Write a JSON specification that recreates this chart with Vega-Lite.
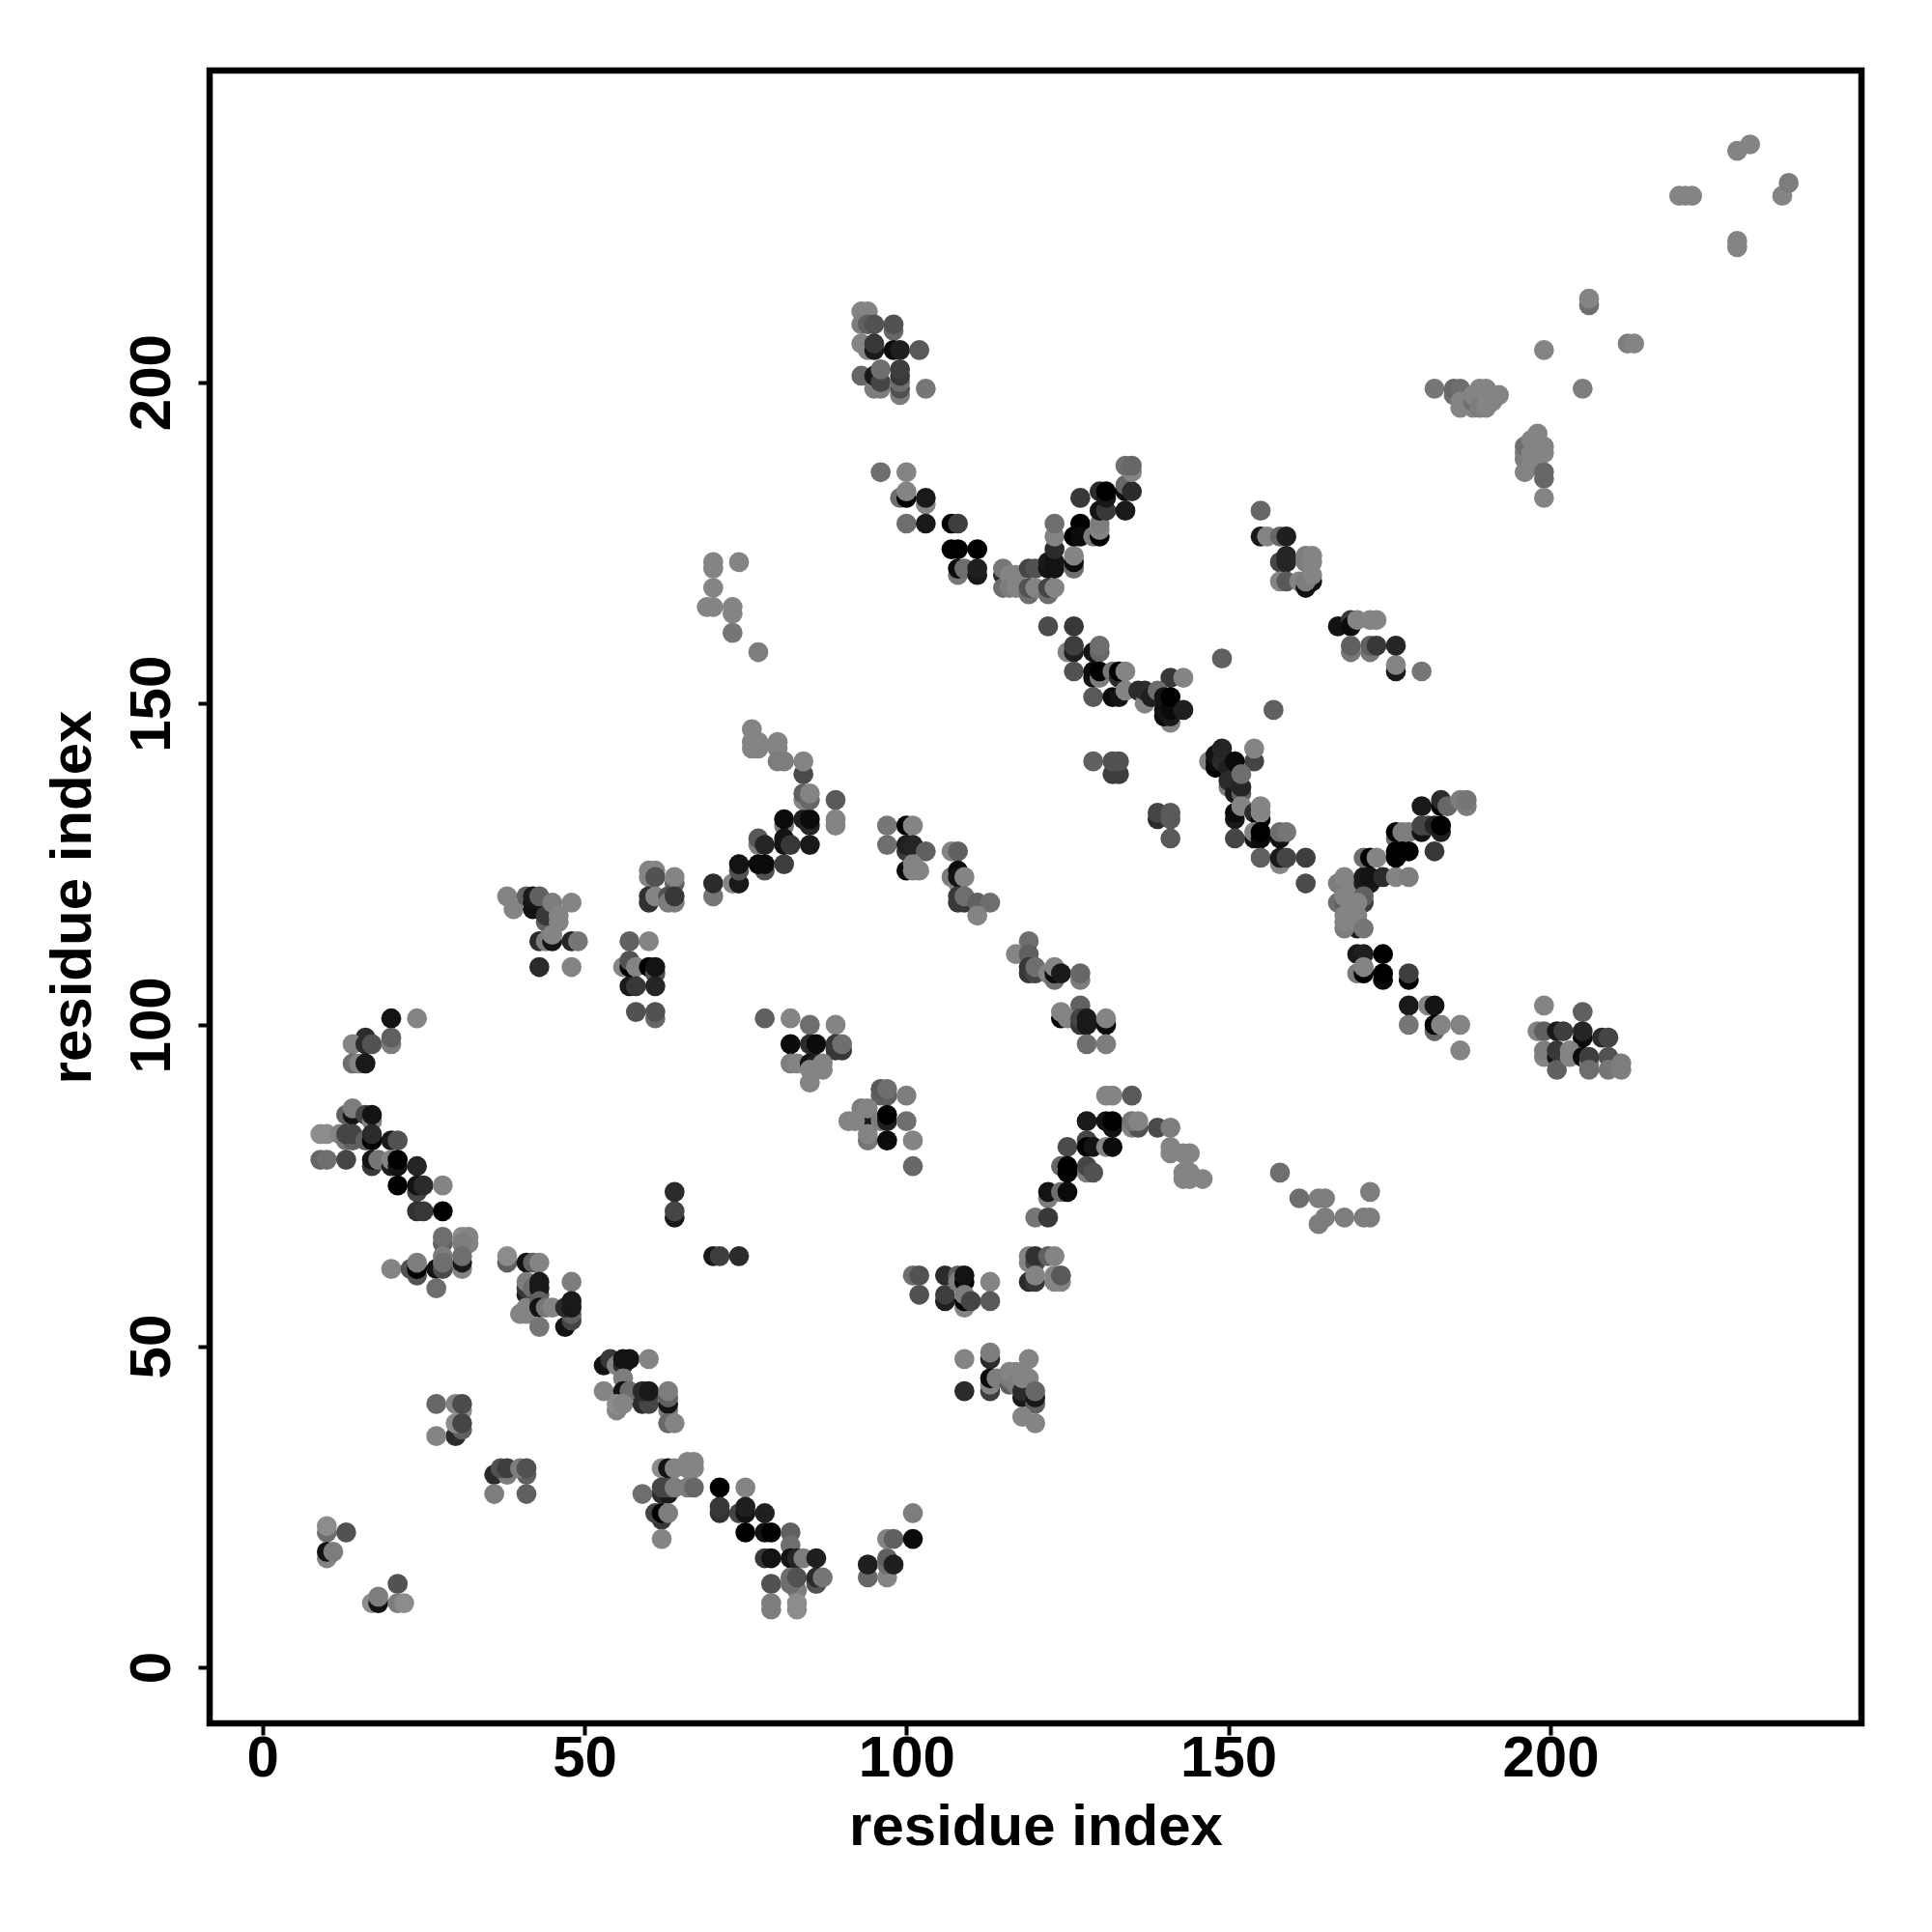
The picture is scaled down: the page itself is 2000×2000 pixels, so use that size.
{"$schema":"https://vega.github.io/schema/vega-lite/v6.json","width":1710,"height":1711,"autosize":"none","padding":{"left":217,"top":73,"right":72,"bottom":216},"background":"white","view":{"stroke":"black","strokeWidth":6.5,"fill":"white"},
"config":{"axis":{"grid":false,"domain":false,"tickColor":"black","tickWidth":4,"tickSize":12,"labelFont":"Liberation Sans","labelFontWeight":"bold","labelFontSize":60,"labelColor":"black","titleFont":"Liberation Sans","titleFontWeight":"bold","titleFontSize":60,"titleColor":"black","labelFlush":false,"labelOverlap":false}},
"data":{"values":[
{"i":10,"j":21,"s":0.2},{"i":10,"j":22,"s":0},{"i":13,"j":21,"s":0.4},{"i":10,"j":17,"s":0.05},{"i":10,"j":18,"s":0.9},{"i":11,"j":18,"s":0.1},
{"i":21,"j":13,"s":0.4},{"i":17,"j":10,"s":0},{"i":18,"j":10,"s":0.9},{"i":18,"j":11,"s":0.1},{"i":21,"j":10,"s":0.1},{"i":22,"j":10,"s":0},
{"i":27,"j":41,"s":0.25},{"i":30,"j":41,"s":0.05},{"i":31,"j":40,"s":0},{"i":31,"j":41,"s":0.45},{"i":30,"j":36,"s":0.7},{"i":31,"j":37,"s":0.3},{"i":30,"j":38,"s":0},{"i":31,"j":38,"s":0.5},{"i":27,"j":36,"s":0.05},
{"i":36,"j":30,"s":0.7},{"i":38,"j":30,"s":0.1},{"i":37,"j":31,"s":0.4},{"i":38,"j":31,"s":0.55},{"i":41,"j":30,"s":0.3},{"i":40,"j":31,"s":0.1},{"i":41,"j":31,"s":0.4},{"i":36,"j":27,"s":0.1},{"i":41,"j":27,"s":0.3},
{"i":62,"j":31,"s":0},{"i":63,"j":31,"s":0.9},{"i":64,"j":31,"s":0.05},{"i":66,"j":32,"s":0.05},{"i":67,"j":32,"s":0.05},{"i":66,"j":31,"s":0.05},{"i":67,"j":31,"s":0.05},{"i":62,"j":27,"s":0.7},{"i":63,"j":27,"s":0.85},{"i":62,"j":28,"s":0.5},{"i":63,"j":28,"s":0.5},{"i":64,"j":28,"s":0.1},{"i":66,"j":28,"s":0.1},{"i":67,"j":28,"s":0.25},{"i":59,"j":27,"s":0.2},{"i":62,"j":23,"s":0.6},{"i":61,"j":24,"s":0.5},{"i":62,"j":24,"s":1},{"i":63,"j":24,"s":0.1},{"i":62,"j":20,"s":0.05},
{"i":71,"j":28,"s":1},{"i":75,"j":28,"s":0.05},{"i":71,"j":24,"s":0.65},{"i":71,"j":25,"s":0.6},{"i":74,"j":24,"s":0.5},{"i":75,"j":24,"s":0.9},{"i":75,"j":25,"s":0.8},{"i":78,"j":24,"s":0.8},{"i":75,"j":21,"s":1},{"i":78,"j":21,"s":0.9},{"i":79,"j":21,"s":1},
{"i":78,"j":17,"s":0.6},{"i":79,"j":17,"s":0.9},{"i":82,"j":21,"s":0.3},{"i":82,"j":19,"s":0.2},{"i":82,"j":17,"s":0.9},{"i":83,"j":17,"s":0.75},{"i":84,"j":17,"s":0.1},{"i":86,"j":17,"s":0.8},{"i":79,"j":13,"s":0.4},{"i":83,"j":12,"s":0.1},{"i":82,"j":13,"s":0.2},{"i":82,"j":14,"s":0.2},{"i":83,"j":14,"s":0.4},{"i":79,"j":10,"s":0.1},{"i":79,"j":9,"s":0.1},{"i":83,"j":10,"s":0},{"i":83,"j":9,"s":0},{"i":86,"j":13,"s":0.4},{"i":86,"j":14,"s":0.7},{"i":87,"j":14,"s":0.15},
{"i":94,"j":14,"s":0.25},{"i":94,"j":16,"s":0.8},{"i":97,"j":14,"s":0.05},{"i":97,"j":16,"s":0.2},{"i":97,"j":17,"s":0.3},{"i":98,"j":16,"s":0.8},{"i":97,"j":20,"s":0.05},{"i":98,"j":20,"s":0.3},{"i":101,"j":20,"s":0.95},{"i":101,"j":24,"s":0.1},
{"i":20,"j":101,"s":0.9},{"i":24,"j":101,"s":0.05},{"i":16,"j":98,"s":0.7},{"i":14,"j":97,"s":0.05},{"i":16,"j":97,"s":0.7},{"i":17,"j":97,"s":0.4},{"i":20,"j":97,"s":0.1},{"i":20,"j":98,"s":0.3},{"i":14,"j":94,"s":0.2},{"i":15,"j":94,"s":0.05},{"i":16,"j":94,"s":0.85},
{"i":13,"j":86,"s":0.3},{"i":14,"j":86,"s":0.9},{"i":14,"j":87,"s":0.1},{"i":16,"j":86,"s":0.5},{"i":17,"j":85,"s":0.05},{"i":17,"j":86,"s":0.9},{"i":9,"j":83,"s":0},{"i":10,"j":83,"s":0},{"i":12,"j":83,"s":0.05},{"i":13,"j":82,"s":0.15},{"i":14,"j":82,"s":0.3},{"i":13,"j":83,"s":0.5},{"i":14,"j":83,"s":0.5},{"i":16,"j":82,"s":0.3},{"i":17,"j":82,"s":1},{"i":17,"j":83,"s":0.7},{"i":20,"j":82,"s":0.85},{"i":21,"j":82,"s":0.4},
{"i":9,"j":79,"s":0.25},{"i":10,"j":79,"s":0.2},{"i":13,"j":79,"s":0.5},{"i":17,"j":78,"s":0.6},{"i":17,"j":79,"s":0.9},{"i":18,"j":79,"s":0.15},{"i":20,"j":78,"s":0.8},{"i":20,"j":79,"s":0.05},{"i":21,"j":78,"s":0.9},{"i":21,"j":79,"s":1},{"i":24,"j":78,"s":0.75},{"i":21,"j":75,"s":1},{"i":24,"j":74,"s":0.5},{"i":24,"j":75,"s":0.9},{"i":25,"j":75,"s":0.7},{"i":28,"j":75,"s":0.05},{"i":24,"j":71,"s":0.65},{"i":25,"j":71,"s":0.6},{"i":28,"j":71,"s":1},
{"i":28,"j":66,"s":0.3},{"i":28,"j":67,"s":0.2},{"i":31,"j":67,"s":0},{"i":32,"j":67,"s":0.05},{"i":32,"j":66,"s":0.05},{"i":31,"j":66,"s":0.1},{"i":28,"j":64,"s":0.1},{"i":31,"j":62,"s":0.05},{"i":31,"j":63,"s":0.85},{"i":31,"j":64,"s":0.2},{"i":38,"j":63,"s":0.3},{"i":38,"j":64,"s":0},
{"i":20,"j":62,"s":0.05},{"i":23,"j":62,"s":0.4},{"i":24,"j":61,"s":0.4},{"i":24,"j":62,"s":1},{"i":24,"j":63,"s":0.1},{"i":27,"j":62,"s":0.9},{"i":28,"j":62,"s":0.45},{"i":28,"j":63,"s":0.2},{"i":27,"j":59,"s":0.2},
{"i":41,"j":63,"s":0.9},{"i":42,"j":63,"s":0.3},{"i":43,"j":63,"s":0.05},{"i":41,"j":58,"s":0.8},{"i":41,"j":59,"s":0.6},{"i":41,"j":60,"s":0.1},{"i":42,"j":59,"s":0.2},{"i":43,"j":58,"s":0.3},{"i":43,"j":59,"s":0.85},{"i":43,"j":60,"s":0.85},{"i":48,"j":60,"s":0.1},{"i":40,"j":55,"s":0.05},{"i":41,"j":55,"s":0.05},{"i":41,"j":56,"s":0.05},{"i":43,"j":57,"s":0.3},{"i":43,"j":56,"s":0.9},{"i":44,"j":56,"s":0.15},{"i":45,"j":56,"s":0.05},{"i":43,"j":53,"s":0.15},
{"i":47,"j":53,"s":0.9},{"i":48,"j":54,"s":0.5},{"i":48,"j":55,"s":0.3},{"i":47,"j":56,"s":0.7},{"i":48,"j":56,"s":0.85},{"i":48,"j":57,"s":0.85},
{"i":53,"j":47,"s":0.9},{"i":54,"j":48,"s":0.6},{"i":55,"j":47,"s":0.05},{"i":56,"j":47,"s":0.7},{"i":56,"j":48,"s":0.9},{"i":57,"j":48,"s":0.9},{"i":60,"j":48,"s":0.05},{"i":56,"j":45,"s":0.1},{"i":53,"j":43,"s":0.05},{"i":56,"j":43,"s":0.9},{"i":57,"j":43,"s":0.2},{"i":55,"j":40,"s":0.05},{"i":55,"j":41,"s":0},{"i":56,"j":41,"s":0.05},{"i":59,"j":41,"s":0.7},{"i":60,"j":41,"s":0.5},{"i":60,"j":42,"s":0.5},{"i":59,"j":43,"s":0.7},{"i":60,"j":43,"s":0.85},{"i":63,"j":40,"s":0.1},{"i":63,"j":41,"s":0.9},{"i":63,"j":42,"s":0.3},{"i":63,"j":43,"s":0.1},{"i":63,"j":38,"s":0.25},{"i":64,"j":38,"s":0.05},
{"i":64,"j":74,"s":0.7},{"i":64,"j":70,"s":0.85},{"i":64,"j":71,"s":0.5},{"i":70,"j":64,"s":0.85},{"i":71,"j":64,"s":0.55},{"i":74,"j":64,"s":0.7},
{"i":38,"j":120,"s":0.05},{"i":39,"j":118,"s":0.05},{"i":41,"j":120,"s":0.3},{"i":42,"j":118,"s":0.9},{"i":42,"j":119,"s":0.9},{"i":42,"j":120,"s":0.85},{"i":43,"j":120,"s":0.3},{"i":44,"j":116,"s":0.3},{"i":44,"j":117,"s":0.6},{"i":45,"j":119,"s":0.1},{"i":46,"j":116,"s":0.05},{"i":46,"j":117,"s":0.05},{"i":48,"j":119,"s":0.05},
{"i":43,"j":113,"s":0.7},{"i":44,"j":113,"s":0.1},{"i":45,"j":113,"s":0.9},{"i":45,"j":114,"s":0.05},{"i":48,"j":113,"s":0.75},{"i":49,"j":113,"s":0.15},{"i":43,"j":109,"s":0.7},{"i":48,"j":109,"s":0.05},
{"i":57,"j":113,"s":0.3},{"i":60,"j":113,"s":0.05},{"i":56,"j":109,"s":0.05},{"i":57,"j":109,"s":1},{"i":57,"j":110,"s":0.4},{"i":58,"j":109,"s":0.05},{"i":60,"j":109,"s":1},{"i":61,"j":108,"s":0.4},{"i":61,"j":109,"s":0.9},{"i":57,"j":106,"s":0.85},{"i":58,"j":106,"s":0.6},{"i":61,"j":106,"s":0.75},{"i":58,"j":102,"s":0.4},{"i":61,"j":101,"s":0.25},{"i":61,"j":102,"s":0.4},
{"i":60,"j":124,"s":0.05},{"i":60,"j":123,"s":0.05},{"i":61,"j":124,"s":0.05},{"i":61,"j":123,"s":0.4},{"i":64,"j":122,"s":0.3},{"i":64,"j":123,"s":0.05},{"i":60,"j":119,"s":0.65},{"i":60,"j":120,"s":0.65},{"i":61,"j":120,"s":0.05},{"i":63,"j":120,"s":0.4},{"i":63,"j":119,"s":0.1},{"i":64,"j":119,"s":0.1},{"i":64,"j":120,"s":0.6},
{"i":70,"j":120,"s":0.15},{"i":70,"j":122,"s":0.7},{"i":73,"j":122,"s":0.05},{"i":74,"j":122,"s":0.85},{"i":74,"j":124,"s":0.4},{"i":74,"j":125,"s":0.9},{"i":77,"j":128,"s":0.1},{"i":77,"j":129,"s":0.35},{"i":78,"j":128,"s":0.75},{"i":78,"j":124,"s":0.4},{"i":77,"j":125,"s":0.95},{"i":78,"j":125,"s":0.95},{"i":81,"j":125,"s":0.55},{"i":81,"j":131,"s":0.1},{"i":81,"j":132,"s":0.95},{"i":81,"j":128,"s":0.9},{"i":81,"j":129,"s":0.9},{"i":82,"j":128,"s":0.6},{"i":85,"j":128,"s":0.85},{"i":84,"j":132,"s":0.8},{"i":85,"j":131,"s":0.75},{"i":85,"j":132,"s":0.95},
{"i":84,"j":135,"s":0.05},{"i":84,"j":136,"s":0.3},{"i":85,"j":135,"s":0.25},{"i":85,"j":136,"s":0.05},{"i":84,"j":139,"s":0.45},{"i":84,"j":141,"s":0.05},{"i":89,"j":135,"s":0.35},{"i":89,"j":131,"s":0.05},{"i":89,"j":132,"s":0.05},
{"i":76,"j":146,"s":0.05},{"i":76,"j":144,"s":0.05},{"i":76,"j":143,"s":0.05},{"i":77,"j":144,"s":0.05},{"i":77,"j":143,"s":0.05},{"i":80,"j":144,"s":0.05},{"i":80,"j":143,"s":0.05},{"i":80,"j":141,"s":0.1},{"i":81,"j":141,"s":0.1},
{"i":97,"j":131,"s":0.15},{"i":100,"j":131,"s":1},{"i":101,"j":131,"s":0.05},{"i":97,"j":128,"s":0.2},{"i":100,"j":127,"s":0.6},{"i":100,"j":128,"s":0.8},{"i":101,"j":128,"s":0.75},{"i":103,"j":127,"s":0.3},{"i":100,"j":124,"s":0.95},{"i":101,"j":124,"s":0.05},{"i":101,"j":125,"s":0.05},{"i":102,"j":124,"s":0.05},
{"i":107,"j":127,"s":0.05},{"i":108,"j":127,"s":0.3},{"i":107,"j":123,"s":0.1},{"i":108,"j":122,"s":0.05},{"i":108,"j":124,"s":0.95},{"i":108,"j":123,"s":0.9},{"i":109,"j":123,"s":0.05},{"i":108,"j":119,"s":0.6},{"i":108,"j":120,"s":0.6},{"i":109,"j":119,"s":0.6},{"i":109,"j":120,"s":0.2},{"i":111,"j":119,"s":0.3},{"i":113,"j":119,"s":0.2},{"i":111,"j":117,"s":0.05},
{"i":119,"j":113,"s":0.2},{"i":117,"j":111,"s":0.05},{"i":119,"j":111,"s":0.3},{"i":119,"j":108,"s":0.6},{"i":119,"j":109,"s":0.6},{"i":120,"j":108,"s":0.5},{"i":120,"j":109,"s":0.2},{"i":122,"j":108,"s":0.05},{"i":123,"j":107,"s":0.2},{"i":123,"j":108,"s":0.95},{"i":123,"j":109,"s":0.05},{"i":124,"j":108,"s":0.85},{"i":127,"j":107,"s":0.1},{"i":127,"j":108,"s":0.25},
{"i":127,"j":103,"s":0.3},{"i":124,"j":101,"s":1},{"i":124,"j":102,"s":0.05},{"i":125,"j":101,"s":0.05},{"i":127,"j":100,"s":0.6},{"i":127,"j":101,"s":0.5},{"i":128,"j":100,"s":0.85},{"i":128,"j":101,"s":0.85},{"i":131,"j":100,"s":0.95},{"i":131,"j":101,"s":0.05},{"i":128,"j":97,"s":0.2},{"i":131,"j":97,"s":0.1},
{"i":78,"j":101,"s":0.3},{"i":82,"j":101,"s":0.05},{"i":85,"j":100,"s":0.2},{"i":89,"j":100,"s":0.05},{"i":82,"j":97,"s":0.95},{"i":85,"j":97,"s":0.7},{"i":86,"j":97,"s":0.95},{"i":89,"j":96,"s":0.6},{"i":90,"j":96,"s":0.6},{"i":89,"j":97,"s":0.6},{"i":90,"j":97,"s":0.2},
{"i":82,"j":94,"s":0.1},{"i":83,"j":94,"s":0.05},{"i":85,"j":94,"s":0.9},{"i":86,"j":93,"s":0.5},{"i":86,"j":94,"s":0.8},{"i":85,"j":93,"s":0.05},{"i":87,"j":93,"s":0.05},{"i":87,"j":94,"s":0.05},{"i":85,"j":91,"s":0.05},
{"i":96,"j":89,"s":0.3},{"i":97,"j":89,"s":0.3},{"i":96,"j":90,"s":0.35},{"i":97,"j":90,"s":0.2},{"i":100,"j":89,"s":0.1},{"i":93,"j":86,"s":0.6},{"i":94,"j":85,"s":0.85},{"i":93,"j":87,"s":0.1},{"i":94,"j":87,"s":0.05},{"i":91,"j":85,"s":0.05},{"i":92,"j":85,"s":0.05},{"i":96,"j":85,"s":0.1},{"i":97,"j":85,"s":0.8},{"i":97,"j":86,"s":1},{"i":100,"j":85,"s":0.2},{"i":94,"j":82,"s":0.15},{"i":94,"j":83,"s":0.05},{"i":97,"j":82,"s":0.95},{"i":101,"j":82,"s":0.05},{"i":101,"j":78,"s":0.25},
{"i":131,"j":89,"s":0.05},{"i":132,"j":89,"s":0.05},{"i":135,"j":89,"s":0.35},{"i":128,"j":85,"s":0.85},{"i":131,"j":85,"s":0.9},{"i":132,"j":84,"s":0.9},{"i":132,"j":85,"s":1},{"i":135,"j":84,"s":0.05},{"i":136,"j":84,"s":0.4},{"i":135,"j":85,"s":0.15},{"i":136,"j":85,"s":0.05},{"i":139,"j":84,"s":0.45},{"i":141,"j":84,"s":0.1},{"i":141,"j":81,"s":0.05},{"i":141,"j":80,"s":0.05},{"i":143,"j":80,"s":0.05},{"i":144,"j":80,"s":0.05},{"i":143,"j":77,"s":0.05},{"i":144,"j":77,"s":0.05},{"i":143,"j":76,"s":0.05},{"i":144,"j":76,"s":0.05},{"i":146,"j":76,"s":0.05},
{"i":125,"j":81,"s":0.45},{"i":128,"j":82,"s":0.5},{"i":128,"j":81,"s":1},{"i":129,"j":81,"s":0.9},{"i":131,"j":81,"s":0.05},{"i":132,"j":81,"s":0.95},{"i":128,"j":77,"s":0.1},{"i":128,"j":78,"s":0.5},{"i":129,"j":77,"s":0.4},{"i":124,"j":78,"s":0.25},{"i":125,"j":77,"s":1},{"i":125,"j":78,"s":1},{"i":122,"j":73,"s":0.1},{"i":122,"j":74,"s":0.9},{"i":124,"j":74,"s":0.2},{"i":125,"j":74,"s":0.95},{"i":120,"j":70,"s":0.15},{"i":122,"j":70,"s":0.6},
{"i":119,"j":64,"s":0.05},{"i":119,"j":63,"s":0.05},{"i":120,"j":63,"s":0.5},{"i":120,"j":64,"s":0.65},{"i":122,"j":64,"s":0.3},{"i":123,"j":64,"s":0.05},{"i":119,"j":60,"s":0.7},{"i":120,"j":60,"s":0.6},{"i":120,"j":61,"s":0.05},{"i":123,"j":60,"s":0.05},{"i":123,"j":61,"s":0.05},{"i":124,"j":60,"s":0.05},{"i":124,"j":61,"s":0.35},
{"i":101,"j":61,"s":0.2},{"i":102,"j":61,"s":0.4},{"i":102,"j":58,"s":0.4},{"i":106,"j":61,"s":0.7},{"i":106,"j":57,"s":0.8},{"i":106,"j":58,"s":0.55},{"i":108,"j":61,"s":0.3},{"i":108,"j":60,"s":0.1},{"i":109,"j":60,"s":1},{"i":109,"j":61,"s":0.9},{"i":109,"j":56,"s":0.05},{"i":109,"j":57,"s":1},{"i":109,"j":58,"s":0.1},{"i":110,"j":57,"s":0.5},{"i":113,"j":60,"s":0.05},{"i":113,"j":57,"s":0.35},
{"i":109,"j":48,"s":0.05},{"i":113,"j":48,"s":0.7},{"i":113,"j":49,"s":0.1},{"i":109,"j":43,"s":0.7},{"i":113,"j":43,"s":0.55},{"i":113,"j":44,"s":0.05},{"i":113,"j":45,"s":0.95},{"i":114,"j":45,"s":0.1},{"i":116,"j":44,"s":0.3},{"i":116,"j":45,"s":0.1},{"i":116,"j":46,"s":0.05},{"i":117,"j":46,"s":0.05},{"i":119,"j":48,"s":0.05},{"i":117,"j":44,"s":0.1},{"i":118,"j":42,"s":0.85},{"i":118,"j":43,"s":0.7},{"i":118,"j":45,"s":0.05},{"i":119,"j":45,"s":0.05},{"i":120,"j":41,"s":0.3},{"i":120,"j":42,"s":0.85},{"i":120,"j":43,"s":0.25},{"i":118,"j":39,"s":0.05},{"i":120,"j":38,"s":0.05},
{"i":93,"j":211,"s":0.05},{"i":94,"j":211,"s":0.05},{"i":93,"j":209,"s":0.1},{"i":94,"j":209,"s":0.3},{"i":95,"j":209,"s":0.4},{"i":98,"j":208,"s":0.25},{"i":98,"j":209,"s":0.4},{"i":93,"j":206,"s":0.05},{"i":94,"j":205,"s":0.05},{"i":95,"j":205,"s":0.85},{"i":95,"j":206,"s":0.6},{"i":98,"j":205,"s":0.95},{"i":99,"j":205,"s":0.8},{"i":102,"j":205,"s":0.35},
{"i":95,"j":199,"s":0.1},{"i":96,"j":199,"s":0.1},{"i":93,"j":201,"s":0.25},{"i":95,"j":201,"s":0.85},{"i":96,"j":200,"s":0.5},{"i":96,"j":202,"s":0.2},{"i":99,"j":198,"s":0.1},{"i":99,"j":199,"s":0.4},{"i":99,"j":200,"s":0.2},{"i":99,"j":201,"s":0.6},{"i":99,"j":202,"s":0.55},{"i":103,"j":199,"s":0.15},
{"i":96,"j":186,"s":0.2},{"i":100,"j":186,"s":0.05},{"i":99,"j":182,"s":0.2},{"i":100,"j":182,"s":1},{"i":100,"j":183,"s":0.05},{"i":103,"j":181,"s":0.05},{"i":103,"j":182,"s":0.85},{"i":100,"j":178,"s":0.2},{"i":103,"j":178,"s":0.85},{"i":107,"j":178,"s":1},{"i":108,"j":178,"s":0.55},{"i":107,"j":174,"s":1},{"i":108,"j":174,"s":1},{"i":111,"j":174,"s":1},{"i":108,"j":170,"s":0.15},{"i":108,"j":171,"s":0.95},{"i":109,"j":171,"s":0.2},{"i":111,"j":170,"s":0.85},{"i":111,"j":171,"s":0.8},
{"i":115,"j":170,"s":0.7},{"i":115,"j":171,"s":0.15},{"i":115,"j":168,"s":0.2},{"i":116,"j":170,"s":0.05},{"i":116,"j":168,"s":0.1},{"i":117,"j":170,"s":0.05},{"i":117,"j":168,"s":0.05},{"i":119,"j":171,"s":0.5},{"i":120,"j":171,"s":0.4},{"i":119,"j":167,"s":0.2},{"i":119,"j":168,"s":0.4},{"i":120,"j":168,"s":0.05},{"i":122,"j":167,"s":0.2},{"i":122,"j":168,"s":0.5},{"i":123,"j":168,"s":0.05},{"i":122,"j":171,"s":0.9},{"i":122,"j":172,"s":0.85},{"i":123,"j":171,"s":0.9},{"i":123,"j":172,"s":0.9},{"i":123,"j":174,"s":0.7},{"i":123,"j":176,"s":0.05},{"i":123,"j":178,"s":0.2},{"i":126,"j":171,"s":0.2},{"i":126,"j":172,"s":0.95},{"i":126,"j":173,"s":0.05},
{"i":127,"j":178,"s":1},{"i":126,"j":176,"s":1},{"i":127,"j":176,"s":0.95},{"i":129,"j":176,"s":0.1},{"i":130,"j":176,"s":1},{"i":130,"j":177,"s":0.05},{"i":130,"j":178,"s":0.1},{"i":127,"j":182,"s":0.6},{"i":130,"j":183,"s":0.7},{"i":130,"j":180,"s":0.9},{"i":131,"j":180,"s":0.6},{"i":131,"j":182,"s":0.85},{"i":131,"j":183,"s":1},{"i":134,"j":180,"s":0.85},{"i":134,"j":183,"s":0.95},{"i":134,"j":184,"s":0.25},{"i":135,"j":183,"s":0.7},{"i":135,"j":186,"s":0.05},{"i":134,"j":187,"s":0.2},{"i":135,"j":187,"s":0.25},
{"i":122,"j":162,"s":0.45},{"i":126,"j":162,"s":0.6},{"i":125,"j":158,"s":0.05},{"i":126,"j":158,"s":0.8},{"i":126,"j":159,"s":0.55},{"i":129,"j":158,"s":0.9},{"i":130,"j":158,"s":0.25},{"i":130,"j":159,"s":0.2},{"i":126,"j":155,"s":0.4},{"i":129,"j":154,"s":0.9},{"i":129,"j":155,"s":0.95},{"i":130,"j":154,"s":0.1},{"i":130,"j":155,"s":1},{"i":132,"j":155,"s":0.15},{"i":133,"j":154,"s":0.7},{"i":133,"j":155,"s":1},{"i":134,"j":155,"s":0.05},{"i":141,"j":154,"s":0.6},{"i":143,"j":154,"s":0.05},{"i":149,"j":157,"s":0.3},
{"i":129,"j":151,"s":0.35},{"i":132,"j":151,"s":0.95},{"i":133,"j":151,"s":0.9},{"i":134,"j":152,"s":0.05},{"i":136,"j":152,"s":0.7},{"i":137,"j":150,"s":0.05},{"i":137,"j":152,"s":0.7},{"i":138,"j":151,"s":0.8},{"i":139,"j":152,"s":0.2},{"i":141,"j":147,"s":0.05},{"i":140,"j":148,"s":0.95},{"i":140,"j":149,"s":0.9},{"i":140,"j":151,"s":0.9},{"i":141,"j":148,"s":0.85},{"i":141,"j":149,"s":0.95},{"i":141,"j":151,"s":1},{"i":143,"j":149,"s":0.8},
{"i":129,"j":141,"s":0.3},{"i":132,"j":139,"s":0.55},{"i":133,"j":139,"s":0.55},{"i":132,"j":141,"s":0.4},{"i":133,"j":141,"s":0.4},{"i":157,"j":149,"s":0.3},
{"i":154,"j":141,"s":0.5},{"i":154,"j":143,"s":0.05},{"i":147,"j":141,"s":0.05},{"i":148,"j":140,"s":1},{"i":148,"j":141,"s":0.95},{"i":148,"j":142,"s":0.9},{"i":149,"j":141,"s":0.7},{"i":149,"j":143,"s":0.75},{"i":150,"j":140,"s":0.8},{"i":151,"j":141,"s":0.95},{"i":150,"j":137,"s":0.1},{"i":150,"j":138,"s":0.7},{"i":151,"j":136,"s":0.85},{"i":151,"j":138,"s":0.7},{"i":152,"j":136,"s":0.3},{"i":152,"j":137,"s":0.75},{"i":152,"j":139,"s":0.2},
{"i":151,"j":132,"s":0.85},{"i":151,"j":133,"s":0.95},{"i":152,"j":134,"s":0.05},{"i":154,"j":133,"s":0.7},{"i":155,"j":132,"s":1},{"i":155,"j":133,"s":0.05},{"i":155,"j":134,"s":0.05},{"i":154,"j":129,"s":0.9},{"i":154,"j":130,"s":0.05},{"i":155,"j":129,"s":0.95},{"i":155,"j":130,"s":1},{"i":158,"j":129,"s":0.9},{"i":158,"j":130,"s":0.2},{"i":159,"j":130,"s":0.15},{"i":151,"j":129,"s":0.5},{"i":155,"j":126,"s":0.3},{"i":158,"j":125,"s":0.05},{"i":158,"j":126,"s":0.85},{"i":159,"j":126,"s":0.5},{"i":162,"j":126,"s":0.55},{"i":162,"j":122,"s":0.45},
{"i":139,"j":132,"s":0.7},{"i":139,"j":133,"s":0.5},{"i":141,"j":132,"s":0.35},{"i":141,"j":133,"s":0.35},{"i":141,"j":129,"s":0.35},
{"i":168,"j":121,"s":0.3},{"i":167,"j":122,"s":0.1},{"i":168,"j":123,"s":0.05},{"i":169,"j":122,"s":0.05},{"i":171,"j":122,"s":0.8},{"i":172,"j":122,"s":0.85},{"i":171,"j":123,"s":0.85},{"i":172,"j":123,"s":0.9},{"i":174,"j":123,"s":0.7},{"i":176,"j":123,"s":0.05},{"i":178,"j":123,"s":0.1},
{"i":167,"j":119,"s":0.2},{"i":168,"j":119,"s":0.3},{"i":168,"j":120,"s":0.05},{"i":171,"j":119,"s":0.55},{"i":171,"j":120,"s":0.3},{"i":170,"j":119,"s":0.05},{"i":170,"j":115,"s":0.8},{"i":168,"j":115,"s":0.1},{"i":168,"j":116,"s":0.05},{"i":168,"j":117,"s":0.05},{"i":170,"j":116,"s":0.05},{"i":170,"j":117,"s":0.05},{"i":171,"j":115,"s":0.15},
{"i":171,"j":126,"s":0.2},{"i":172,"j":126,"s":1},{"i":173,"j":126,"s":0.05},{"i":176,"j":129,"s":0.2},{"i":176,"j":130,"s":1},{"i":177,"j":130,"s":0.1},{"i":178,"j":130,"s":0.1},{"i":176,"j":126,"s":1},{"i":176,"j":127,"s":1},{"i":177,"j":127,"s":1},{"i":178,"j":127,"s":1},
{"i":180,"j":134,"s":0.85},{"i":180,"j":130,"s":0.9},{"i":180,"j":131,"s":0.5},{"i":181,"j":131,"s":0.5},{"i":182,"j":127,"s":0.6},{"i":182,"j":131,"s":0.75},{"i":183,"j":130,"s":0.8},{"i":183,"j":131,"s":1},{"i":183,"j":134,"s":1},{"i":183,"j":135,"s":0.7},{"i":184,"j":134,"s":0.25},{"i":186,"j":135,"s":0.1},{"i":187,"j":134,"s":0.1},{"i":187,"j":135,"s":0.15},
{"i":170,"j":111,"s":0.85},{"i":171,"j":111,"s":0.8},{"i":174,"j":111,"s":1},{"i":170,"j":108,"s":0.1},{"i":171,"j":108,"s":1},{"i":171,"j":109,"s":0.05},{"i":174,"j":107,"s":0.95},{"i":174,"j":108,"s":1},{"i":178,"j":107,"s":1},{"i":178,"j":108,"s":0.55},
{"i":178,"j":103,"s":0.85},{"i":181,"j":103,"s":0.05},{"i":182,"j":103,"s":0.9},{"i":178,"j":100,"s":0.15},{"i":182,"j":99,"s":0.25},{"i":182,"j":100,"s":1},{"i":183,"j":100,"s":0.05},{"i":186,"j":100,"s":0.05},{"i":186,"j":96,"s":0.05},
{"i":199,"j":103,"s":0.05},{"i":205,"j":102,"s":0.3},{"i":198,"j":99,"s":0.05},{"i":199,"j":99,"s":0.3},{"i":201,"j":99,"s":0.85},{"i":202,"j":99,"s":0.55},{"i":205,"j":98,"s":0.95},{"i":205,"j":99,"s":0.75},{"i":199,"j":95,"s":0.05},{"i":199,"j":96,"s":0.1},{"i":201,"j":95,"s":0.9},{"i":201,"j":96,"s":0.6},{"i":201,"j":93,"s":0.3},{"i":203,"j":95,"s":0.05},{"i":203,"j":96,"s":0.05},{"i":205,"j":95,"s":0.95},{"i":206,"j":94,"s":0.1},{"i":206,"j":95,"s":0.55},{"i":206,"j":93,"s":0.2},{"i":208,"j":98,"s":0.7},{"i":209,"j":98,"s":0.5},{"i":209,"j":95,"s":0.4},{"i":209,"j":93,"s":0.15},{"i":211,"j":93,"s":0.1},{"i":211,"j":94,"s":0.1},
{"i":155,"j":180,"s":0.25},{"i":155,"j":176,"s":0.85},{"i":156,"j":176,"s":0.05},{"i":158,"j":176,"s":0.25},{"i":159,"j":176,"s":0.8},{"i":158,"j":172,"s":0.5},{"i":159,"j":172,"s":0.75},{"i":159,"j":173,"s":0.75},{"i":162,"j":172,"s":0.1},{"i":162,"j":173,"s":0.1},{"i":163,"j":172,"s":0.05},{"i":163,"j":173,"s":0.05},{"i":158,"j":169,"s":0.05},{"i":159,"j":169,"s":0.35},{"i":161,"j":169,"s":0.05},{"i":162,"j":168,"s":0.9},{"i":163,"j":169,"s":0.9},{"i":162,"j":169,"s":0.1},{"i":163,"j":170,"s":0.05},
{"i":167,"j":162,"s":0.9},{"i":169,"j":163,"s":0.6},{"i":169,"j":162,"s":0.95},{"i":170,"j":163,"s":0.05},{"i":172,"j":163,"s":0.05},{"i":173,"j":163,"s":0.05},{"i":169,"j":158,"s":0.15},{"i":169,"j":159,"s":0.3},{"i":172,"j":158,"s":0.15},{"i":172,"j":159,"s":0.3},{"i":173,"j":159,"s":0.6},{"i":176,"j":155,"s":0.85},{"i":176,"j":156,"s":0.05},{"i":176,"j":159,"s":0.75},{"i":180,"j":155,"s":0.15},
{"i":70,"j":172,"s":0.05},{"i":70,"j":171,"s":0.05},{"i":74,"j":172,"s":0.05},{"i":70,"j":168,"s":0.05},{"i":69,"j":165,"s":0.05},{"i":70,"j":165,"s":0.05},{"i":73,"j":164,"s":0.05},{"i":73,"j":165,"s":0.05},{"i":73,"j":161,"s":0.15},{"i":77,"j":158,"s":0.1},
{"i":158,"j":77,"s":0.2},{"i":161,"j":73,"s":0.2},{"i":164,"j":73,"s":0.1},{"i":165,"j":73,"s":0.1},{"i":164,"j":69,"s":0.1},{"i":165,"j":70,"s":0.1},{"i":168,"j":70,"s":0.1},{"i":171,"j":70,"s":0.1},{"i":172,"j":70,"s":0.1},{"i":172,"j":74,"s":0.1},
{"i":182,"j":199,"s":0.15},{"i":185,"j":198,"s":0.2},{"i":185,"j":199,"s":0.25},{"i":186,"j":199,"s":0.2},{"i":186,"j":196,"s":0.05},{"i":186,"j":197,"s":0.05},{"i":188,"j":196,"s":0.05},{"i":188,"j":197,"s":0.2},{"i":188,"j":198,"s":0.05},{"i":189,"j":196,"s":0.1},{"i":190,"j":196,"s":0.05},{"i":189,"j":199,"s":0.05},{"i":190,"j":198,"s":0.05},{"i":190,"j":199,"s":0.05},{"i":191,"j":197,"s":0.05},{"i":192,"j":198,"s":0.05},
{"i":196,"j":186,"s":0.05},{"i":196,"j":188,"s":0.1},{"i":196,"j":189,"s":0.1},{"i":196,"j":190,"s":0.2},{"i":197,"j":187,"s":0.05},{"i":197,"j":189,"s":0.05},{"i":197,"j":191,"s":0.05},{"i":198,"j":192,"s":0.05},{"i":199,"j":185,"s":0.25},{"i":199,"j":186,"s":0.25},{"i":199,"j":189,"s":0.05},{"i":199,"j":190,"s":0.05},{"i":199,"j":182,"s":0.05},
{"i":206,"j":212,"s":0.2},{"i":206,"j":213,"s":0.05},{"i":199,"j":205,"s":0.05},{"i":212,"j":206,"s":0.1},{"i":213,"j":206,"s":0.05},{"i":205,"j":199,"s":0.1},
{"i":220,"j":229,"s":0.05},{"i":221,"j":229,"s":0.05},{"i":222,"j":229,"s":0.05},{"i":229,"j":221,"s":0.05},{"i":229,"j":222,"s":0.05},{"i":229,"j":236,"s":0.05},{"i":231,"j":237,"s":0.05},{"i":236,"j":229,"s":0.05},{"i":237,"j":231,"s":0.1}
]},
"mark":{"type":"circle","opacity":1,"size":430},
"encoding":{
"x":{"field":"i","type":"quantitative","scale":{"domain":[-8.2,248.3],"nice":false,"zero":false},"axis":{"values":[0,50,100,150,200],"title":"residue index","labelPadding":-5,"titlePadding":12}},
"y":{"field":"j","type":"quantitative","scale":{"domain":[-8.7,248.5],"nice":false,"zero":false},"axis":{"values":[0,50,100,150,200],"title":"residue index","labelAngle":-90,"labelAlign":"center","labelBaseline":"bottom","labelPadding":17,"titlePadding":21}},
"color":{"field":"s","type":"quantitative","scale":{"domain":[0,1],"range":["#8c8c8c","#000000"]},"legend":null}
}}
